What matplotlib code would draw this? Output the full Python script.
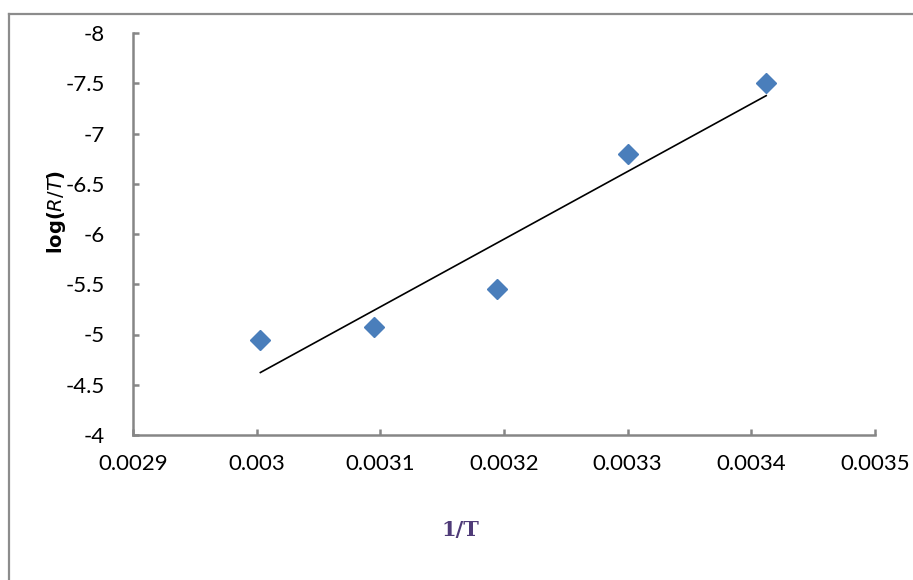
import matplotlib
matplotlib.use("Agg")
import matplotlib.pyplot as plt
import numpy as np
from matplotlib.lines import Line2D
from matplotlib.ticker import FuncFormatter

# data
inv_t = [0.003003, 0.003095, 0.003194, 0.003300, 0.003412]
log_rt = [-4.95, -5.07, -5.45, -6.80, -7.50]

x_ticks = [0.0029, 0.0030, 0.0031, 0.0032, 0.0033, 0.0034, 0.0035]
x_tick_labels = ["0.0029", "0.003", "0.0031", "0.0032", "0.0033", "0.0034", "0.0035"]
y_ticks = [-4, -4.5, -5, -5.5, -6, -6.5, -7, -7.5, -8]

axis_gray = "#868686"
marker_blue = "#4A7EBB"

plt.rcParams["font.family"] = ["Lato", "DejaVu Sans"]

fig = plt.figure(figsize=(9.13, 5.8), dpi=100)
ax = fig.add_axes([133 / 913, 145 / 580, 742 / 913, 402 / 580])

ax.plot(inv_t, log_rt, linestyle="none", marker="D", ms=10, color=marker_blue, zorder=3)

# linear trendline
slope, icept = np.polyfit(inv_t, log_rt, 1)
xs = np.array([inv_t[0], inv_t[-1]])
ax.plot(xs, slope * xs + icept, color="black", lw=1.2, zorder=2)

ax.set_xlim(0.0029, 0.0035)
ax.set_ylim(-4, -8)
ax.set_xticks(x_ticks)
ax.set_xticklabels(x_tick_labels)
ax.set_yticks(y_ticks)
ax.yaxis.set_major_formatter(FuncFormatter(lambda v, p: f"{v:g}"))

for side in ("top", "right"):
    ax.spines[side].set_visible(False)
for side in ("left", "bottom"):
    ax.spines[side].set_color(axis_gray)
    ax.spines[side].set_linewidth(1.8)
ax.tick_params(axis="both", direction="in", length=4.5, width=1.8, color=axis_gray,
               labelsize=16, labelcolor="black")
ax.tick_params(axis="y", pad=20)
ax.tick_params(axis="x", pad=14)

ax.text(-0.103, 0.555, r"log($\mathit{R/T}$)", transform=ax.transAxes, rotation=90,
        ha="center", va="center", fontsize=14, fontweight="bold", family="DejaVu Sans")
fig.text(460 / 913, 1 - 530 / 580, "1/T", ha="center", va="center", fontsize=15,
         fontweight="bold", family="DejaVu Serif", color="#4F3B78")

# outer chart-area border (left and top edges visible)
fig.add_artist(Line2D([9 / 913, 9 / 913], [0, 1 - 14 / 580], transform=fig.transFigure,
                      color="#8C8C8C", lw=1.6))
fig.add_artist(Line2D([9 / 913, 1], [1 - 14 / 580, 1 - 14 / 580], transform=fig.transFigure,
                      color="#8C8C8C", lw=1.6))

fig.savefig("out.png", dpi=100)
